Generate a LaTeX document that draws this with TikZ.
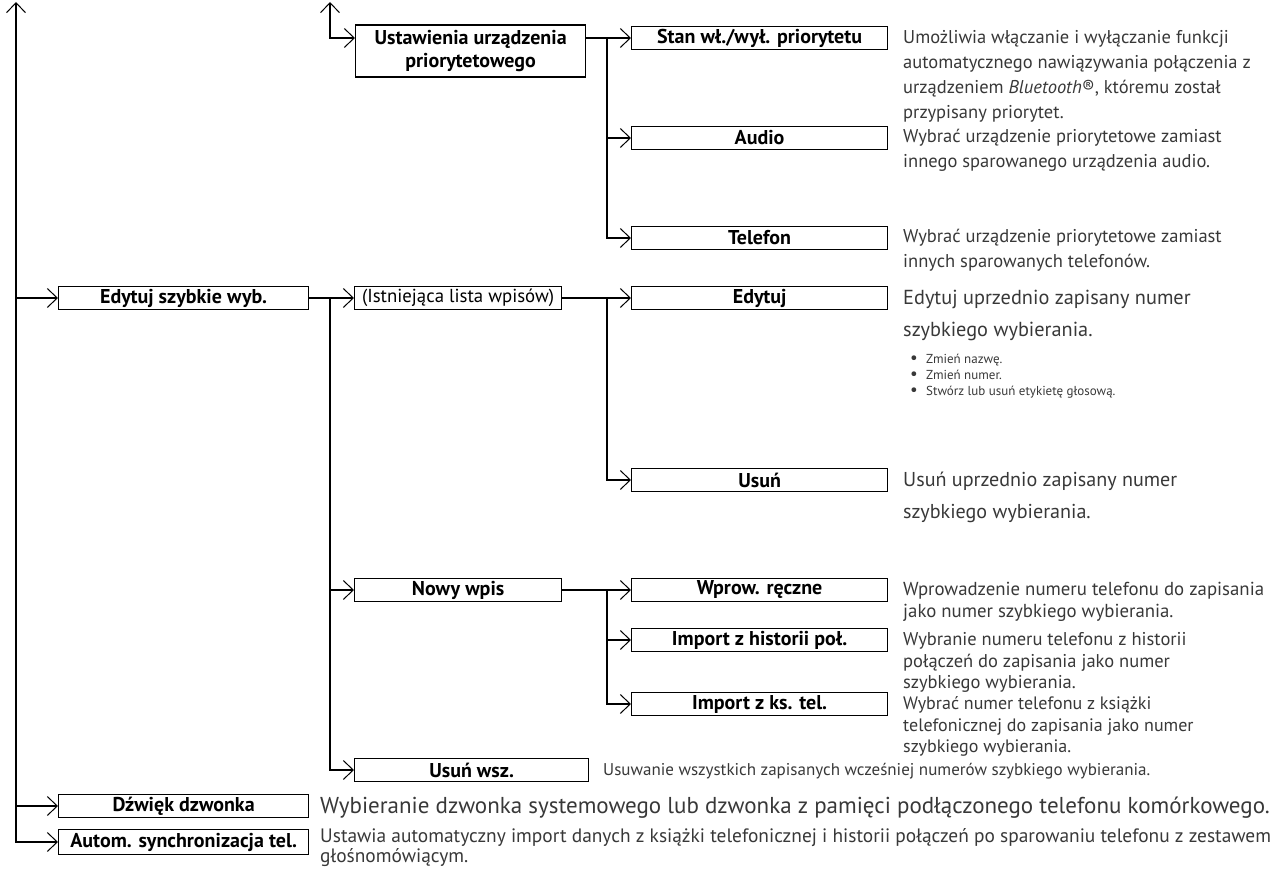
\documentclass[tikz,border=0pt]{standalone}
\usepackage{fontspec}
\setmainfont{PT Sans}
\usetikzlibrary{arrows.meta, positioning}
\definecolor{desctext}{gray}{0.22}
\newcommand{\bigdot}{\makebox[16pt][l]{\raisebox{0pt}[0pt][0pt]{\fontsize{17}{14}\selectfont\textbullet}}}
\tikzstyle{menu} = [rectangle, draw=black, line width=1.2pt, minimum height=23pt, inner sep=0pt, anchor=west, font=\fontsize{20}{23}\selectfont\bfseries]
\tikzstyle{wide} = [menu, minimum width=256pt]
\tikzstyle{mid} = [menu, minimum width=207pt]
\tikzstyle{side} = [menu, minimum width=250pt]
\tikzstyle{desc} = [anchor=base west, align=left, inner sep=0pt, text=desctext]
\tikzstyle{arrow} = [line width=1.8pt, -{Straight Barb[length=10pt, width=19pt, line width=1pt]}]
\tikzstyle{biarrow} = [line width=1.8pt, {Straight Barb[length=10pt, width=19pt, line width=1pt]}-{Straight Barb[length=10pt, width=19pt, line width=1pt]}]

\begin{document}
\begin{tikzpicture}[x=1pt, y=-1pt]
\useasboundingbox (0,0) rectangle (1285,877);

% menu boxes
\node (ust) [menu, minimum width=230pt, minimum height=52pt, align=center] at (355,51) {Ustawienia urządzenia\\priorytetowego};
\node (stan) [wide] at (631,38) {Stan wł./wył. priorytetu};
\node (audio) [wide] at (631,138) {Audio};
\node (tel) [wide] at (631,238) {Telefon};
\node (szyb) [side] at (58,298) {Edytuj szybkie wyb.};
\node (lista) [mid, font=\fontsize{18.8}{22}\selectfont] at (354,298) {(Istniejąca lista wpisów)};
\node (edyt) [wide] at (631,298) {Edytuj};
\node (usun) [wide] at (631,480) {Usuń};
\node (nowy) [mid] at (354,590) {Nowy wpis};
\node (wprow) [wide] at (631,590) {Wprow. ręczne};
\node (hist) [wide] at (631,640) {Import z historii poł.};
\node (ks) [wide] at (631,704) {Import z ks. tel.};
\node (usunwsz) [menu, minimum width=234pt] at (354,770) {Usuń wsz.};
\node (dzw) [side] at (58,806) {Dźwięk dzwonka};
\node (autom) [side, minimum height=25pt] at (58,842) {Autom. synchronizacja tel.};

% branch points
\coordinate (top1) at (16,2);
\coordinate (top2) at (330,2);
\coordinate (br1) at (607,38);
\coordinate (br2) at (330,298);
\coordinate (br3) at (607,298);
\coordinate (br4) at (607,590);

% connectors
\draw [biarrow] (top1) |- (autom.west);
\draw [arrow] (top1 |- szyb) -- (szyb.west);
\draw [arrow] (top1 |- dzw) -- (dzw.west);
\draw [biarrow] (top2) |- (ust.west |- stan);
\draw [arrow] (ust.east |- stan) -- (stan.west);
\draw [arrow] (br1) |- (audio.west);
\draw [arrow] (br1) |- (tel.west);
\draw [arrow] (szyb.east) -- (lista.west);
\draw [arrow] (br2) |- (nowy.west);
\draw [arrow] (br2) |- (usunwsz.west);
\draw [arrow] (lista.east) -- (edyt.west);
\draw [arrow] (br3) |- (usun.west);
\draw [arrow] (nowy.east) -- (wprow.west);
\draw [arrow] (br4) |- (hist.west);
\draw [arrow] (br4) |- (ks.west);

% descriptions (placed at the baseline of their last line)
\node (stantxt) [desc, font=\fontsize{18.5}{25}\selectfont] at (903,118.5) {Umożliwia włączanie i wyłączanie funkcji\\automatycznego nawiązywania połączenia z\\urządzeniem \textit{Bluetooth}®, któremu został\\przypisany priorytet.};
\node (audiotxt) [desc, font=\fontsize{18.5}{25}\selectfont] at (903,167.5) {Wybrać urządzenie priorytetowe zamiast\\innego sparowanego urządzenia audio.};
\node (teltxt) [desc, font=\fontsize{18.5}{25}\selectfont] at (903,267.5) {Wybrać urządzenie priorytetowe zamiast\\innych sparowanych telefonów.};
\node (edyttxt) [desc, font=\fontsize{20.3}{32}\selectfont] at (903,336) {Edytuj uprzednio zapisany numer\\szybkiego wybierania.};
\node (bullets) [desc, font=\fontsize{13}{16}\selectfont] at (910,395) {\bigdot Zmień nazwę.\\\bigdot Zmień numer.\\\bigdot Stwórz lub usuń etykietę głosową.};
\node (usuntxt) [desc, font=\fontsize{20.1}{32}\selectfont] at (903,518) {Usuń uprzednio zapisany numer\\szybkiego wybierania.};
\node (wprowtxt) [desc, font=\fontsize{18.8}{21.5}\selectfont] at (903,617) {Wprowadzenie numeru telefonu do zapisania\\jako numer szybkiego wybierania.};
\node (histtxt) [desc, font=\fontsize{18.5}{21.5}\selectfont] at (903,688.5) {Wybranie numeru telefonu z historii\\połączeń do zapisania jako numer\\szybkiego wybierania.};
\node (kstxt) [desc, font=\fontsize{18}{21.5}\selectfont] at (903,752.5) {Wybrać numer telefonu z książki\\telefonicznej do zapisania jako numer\\szybkiego wybierania.};
\node (usunwsztxt) [desc, font=\fontsize{17}{20}\selectfont] at (603,775) {Usuwanie wszystkich zapisanych wcześniej numerów szybkiego wybierania.};
\node (dzwtxt) [desc, font=\fontsize{23}{26}\selectfont] at (320,813) {Wybieranie dzwonka systemowego lub dzwonka z pamięci podłączonego telefonu komórkowego.};
\node (automtxt) [desc, font=\fontsize{19.4}{16.5}\selectfont] at (320,862) {Ustawia automatyczny import danych z książki telefonicznej i historii połączeń po sparowaniu telefonu z zestawem\\głośnomówiącym.};
\end{tikzpicture}
\end{document}
